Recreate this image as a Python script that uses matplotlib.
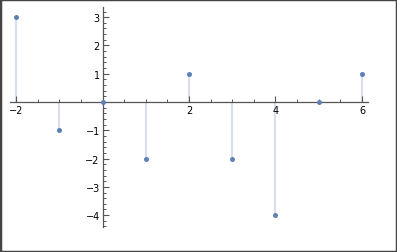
import matplotlib
matplotlib.use("Agg")
import matplotlib.pyplot as plt
from matplotlib.patches import Rectangle
from matplotlib.ticker import MultipleLocator

x_vals = [-2, -1, 0, 1, 2, 3, 4, 5, 6]
y_vals = [3, -1, 0, -2, 1, -2, -4, 0, 1]
x_ticks = [-2, 2, 4, 6]
y_ticks = [-4, -3, -2, -1, 1, 2, 3]

W, H = 397, 253
fig = plt.figure(figsize=(W/100, H/100), dpi=100)
x0, x1 = 10, 368
y0, y1 = 8, 228
ax = fig.add_axes([x0/W, 1 - y1/H, (x1-x0)/W, (y1-y0)/H])
ax.set_xlim(-2.14, 6.14)
ax.set_ylim(-4.42, 3.36)

stem_color = "#D9DFEC"
pt_color = "#5E81B5"
for xv, yv in zip(x_vals, y_vals):
    ax.plot([xv, xv], [0, yv], color=stem_color, lw=1.6, zorder=1, solid_capstyle="butt")
ax.scatter(x_vals, y_vals, s=13, color=pt_color, zorder=3, linewidths=0)

for s in ["top", "right"]:
    ax.spines[s].set_visible(False)
ax.spines["left"].set_position(("data", 0))
ax.spines["bottom"].set_position(("data", 0))
axis_col = "#555555"
for s in ["left", "bottom"]:
    ax.spines[s].set_color(axis_col)
    ax.spines[s].set_linewidth(0.9)
    ax.spines[s].set_zorder(2)

ax.set_xticks(x_ticks)
ax.set_yticks(y_ticks)
ax.xaxis.set_minor_locator(MultipleLocator(0.5))
ax.yaxis.set_minor_locator(MultipleLocator(0.2))
ax.tick_params(which="major", direction="in", length=4, width=0.8, color=axis_col,
               labelsize=7, labelcolor="black", pad=2)
ax.tick_params(which="minor", direction="in", length=2.2, width=0.7, color=axis_col)
ax.set_xticklabels([(("\u2212" + str(-t)) if t < 0 else str(t)) for t in x_ticks])
ax.set_yticklabels([(("\u2212" + str(-t)) if t < 0 else str(t)) for t in y_ticks])
ax.patch.set_alpha(0)

fig.patches.append(Rectangle((0, 0), 1, 1, transform=fig.transFigure, fill=False,
                             edgecolor="#444444", lw=2.5))
fig.savefig("out.png", dpi=100)
